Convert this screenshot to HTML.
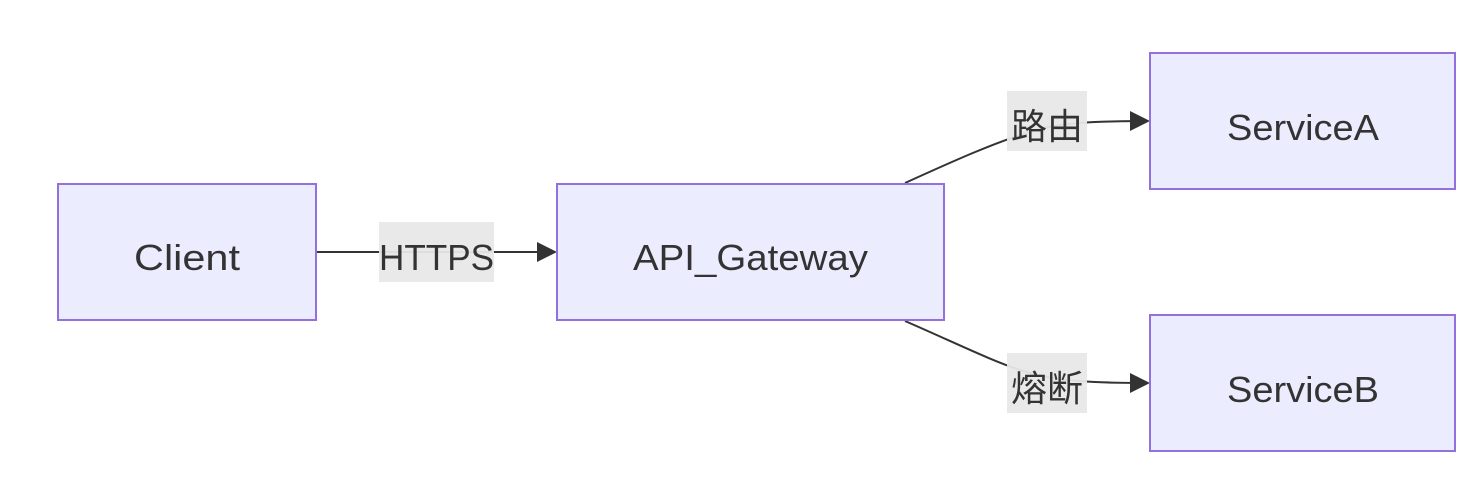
<!DOCTYPE html>
<html><head><meta charset="utf-8"><style>
html,body{margin:0;padding:0;background:#fff;}
svg{display:block;}
text{font-family:"Liberation Sans","Noto Sans CJK SC",sans-serif;font-size:36px;fill:#333;}
</style></head><body>
<svg width="1481" height="497" viewBox="0 0 1481 497" xmlns="http://www.w3.org/2000/svg">
<defs>
<marker id="b" viewBox="0 0 10 10" refX="9" refY="5" markerWidth="20" markerHeight="20" markerUnits="userSpaceOnUse" orient="auto"><path d="M0,0L10,5L0,10z" fill="#333"/></marker></defs>
<g fill="none" stroke="#333" stroke-width="2">
<path d="M317,252 L555,252" marker-end="url(#b)"/>
<path d="M905,183 C960,158 990,145 1020,135 C1050,124 1080,121 1148,121" marker-end="url(#b)"/>
<path d="M905,321 C960,345 990,360 1020,370 C1050,380 1080,383 1148,383" marker-end="url(#b)"/>
</g>
<g fill="#ececff" stroke="#9370db" stroke-width="2">
<rect x="58" y="184" width="258" height="136"/>
<rect x="557" y="184" width="387" height="136"/>
<rect x="1150" y="53" width="305" height="136"/>
<rect x="1150" y="315" width="305" height="136"/>
</g>
<g fill="#e8e8e8" opacity="0.95">
<rect x="379" y="222" width="115" height="60"/>
<rect x="1007" y="91" width="80" height="60"/>
<rect x="1007" y="353" width="80" height="60"/>
</g>
<g>
<text x="134" y="270" textLength="106" lengthAdjust="spacingAndGlyphs">Client</text>
<text x="633" y="270" textLength="235" lengthAdjust="spacingAndGlyphs">API_Gateway</text>
<text x="1227" y="140" textLength="152" lengthAdjust="spacingAndGlyphs">ServiceA</text>
<text x="1227" y="402" textLength="152" lengthAdjust="spacingAndGlyphs">ServiceB</text>
<text x="379" y="270" textLength="115" lengthAdjust="spacingAndGlyphs">HTTPS</text>
</g>
<g text-anchor="middle">
<text x="1047" y="139">路由</text>
<text x="1047" y="401">熔断</text>
</g>
</svg>
</body></html>
